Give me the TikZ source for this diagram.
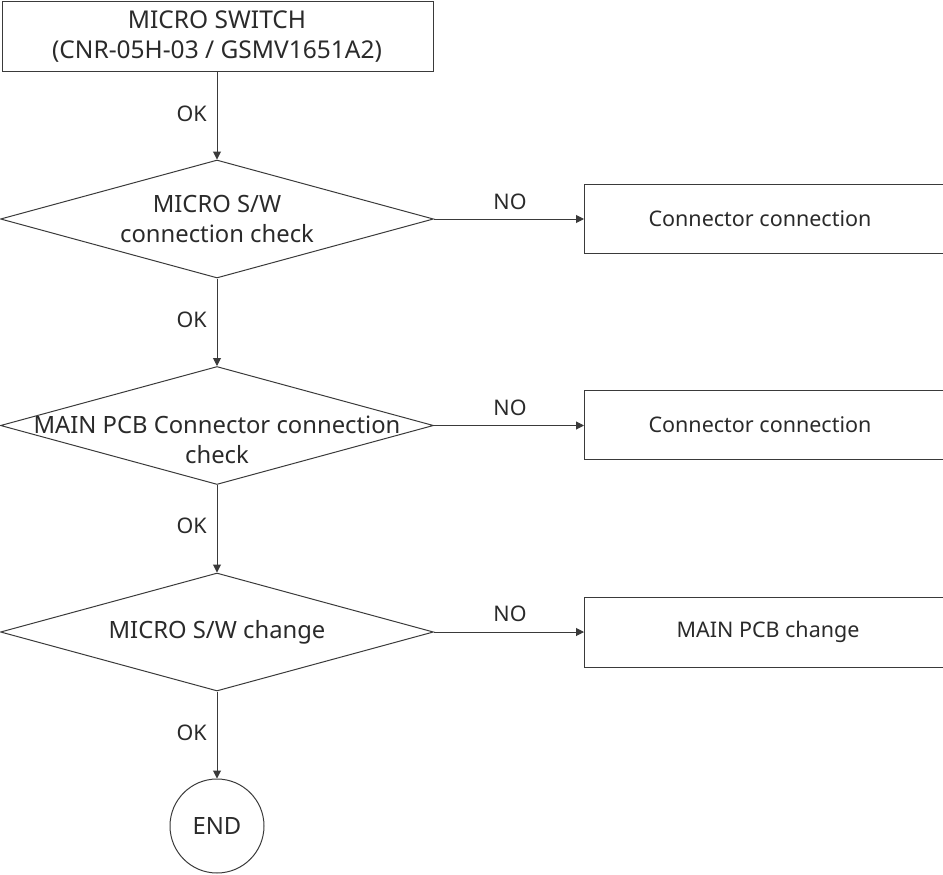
\documentclass[tikz,border=0pt]{standalone}
\usepackage{fontspec}
\setmainfont{Noto Sans}
\usetikzlibrary{shapes.geometric,arrows.meta}
\definecolor{ln}{HTML}{3A3A3A}
\definecolor{tx}{HTML}{2A2A2A}
\tikzset{
  every node/.style={text=tx,font=\fontsize{21.5}{29}\selectfont},
  big/.style={font=\fontsize{23.8}{30}\selectfont},
  box/.style={draw=ln,line width=1pt,rectangle,inner sep=0pt},
  dia/.style={draw=ln,line width=1pt,diamond,inner sep=0pt,minimum width=433pt,minimum height=118pt},
  endc/.style={draw=ln,line width=1pt,circle,inner sep=0pt,minimum size=94pt},
  flow/.style={draw=ln,line width=1pt,-{Triangle[length=8pt,width=8pt]}},
  lbl/.style={inner sep=0pt}
}
\begin{document}
\begin{tikzpicture}[x=1pt,y=-1pt]
\useasboundingbox (0,0) rectangle (943,875);
% start box
\node[box,minimum width=431pt,minimum height=70pt] (start) at (217.5,37) {};
\node[lbl,big,align=center,font=\fontsize{24.5}{30}\selectfont] (starttxt) at (217,37) {MICRO SWITCH\\(CNR-05H-03 / GSMV1651A2)};
% diamonds
\node[dia] (d1) at (217,219) {};
\node[lbl,big,align=center] (d1t) at (217,219) {MICRO S/W\\connection check};
\node[dia] (d2) at (217,425.5) {};
\node[lbl,big,align=center] (d2t) at (217,440) {MAIN PCB Connector connection\\check};
\node[dia] (d3) at (217,632) {};
\node[lbl,big] (d3t) at (217,632) {MICRO S/W change};
% end
\node[endc] (end) at (217,826) {};
\node[lbl,big] (endt) at (217,826) {END};
% right boxes
\node[box,minimum width=360pt,minimum height=69pt,anchor=west] (r1) at (584,218.5) {};
\node[lbl] (r1t) at (760,218.5) {Connector connection};
\node[box,minimum width=360pt,minimum height=69pt,anchor=west] (r2) at (584,425) {};
\node[lbl] (r2t) at (760,425) {Connector connection};
\node[box,minimum width=360pt,minimum height=70pt,anchor=west] (r3) at (584,632) {};
\node[lbl] (r3t) at (768,632) {MAIN PCB change};
% connectors
\draw[flow] (start.south -| d1.north) -- (d1.north);
\draw[flow] (d1.south) -- (d2.north);
\draw[flow] (d2.south) -- (d3.north);
\draw[flow] (d3.south) -- (end.north);
\draw[flow] (d1.east) -- (r1.west |- d1.east);
\draw[flow] (d2.east) -- (r2.west |- d2.east);
\draw[flow] (d3.east) -- (r3.west |- d3.east);
% labels
\node[lbl,anchor=east] (ok1) at (207,114) {OK};
\node[lbl,anchor=east] (ok2) at (207,320) {OK};
\node[lbl,anchor=east] (ok3) at (207,526) {OK};
\node[lbl,anchor=east] (ok4) at (207,733) {OK};
\node[lbl] (no1) at (510,202) {NO};
\node[lbl] (no2) at (510,408) {NO};
\node[lbl] (no3) at (510,614) {NO};
\end{tikzpicture}
\end{document}
